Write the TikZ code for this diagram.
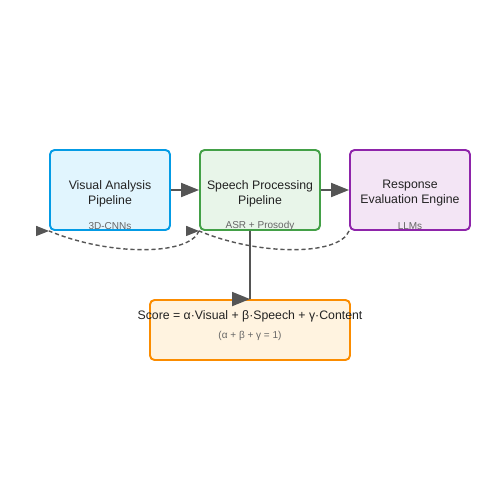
\documentclass[tikz,border=0pt]{standalone}
\usepackage{fontspec}
\setmainfont{Liberation Sans}
\usetikzlibrary{arrows.meta}
\definecolor{vfill}{HTML}{E1F5FE}\definecolor{vdraw}{HTML}{039BE5}
\definecolor{sfill}{HTML}{E8F5E9}\definecolor{sdraw}{HTML}{43A047}
\definecolor{rfill}{HTML}{F3E5F5}\definecolor{rdraw}{HTML}{8E24AA}
\definecolor{cfill}{HTML}{FFF3E0}\definecolor{cdraw}{HTML}{FB8C00}
\definecolor{lnc}{HTML}{555555}
\definecolor{subc}{HTML}{666666}
\definecolor{txtc}{HTML}{222222}
\begin{document}
\begin{tikzpicture}[x=0.02cm,y=-0.02cm,
  box/.style={draw, line width=1.1pt, rounded corners=0.09cm, minimum width=2.4cm, minimum height=1.6cm, inner sep=0pt},
  maintxt/.style={align=center, text=txtc, font=\fontsize{7}{8.5}\selectfont, inner sep=0pt},
  subtxt/.style={text=subc, font=\fontsize{5.7}{6.5}\selectfont, inner sep=0pt},
  arr/.style={draw=lnc, line width=1.1pt, -{Triangle[length=0.36cm,width=0.28cm]}},
  plain/.style={draw=lnc, line width=1.1pt},
  dline/.style={draw=lnc, line width=0.8pt, dash pattern=on 2.4pt off 1.6pt},
  darr/.style={draw=lnc, line width=0.8pt, -{Triangle[length=0.26cm,width=0.2cm]}}]
\useasboundingbox (0,0) rectangle (500,500);
\node[box, fill=vfill, draw=vdraw] (v) at (110,190) {};
\node[box, fill=sfill, draw=sdraw] (s) at (260,190) {};
\node[box, fill=rfill, draw=rdraw] (r) at (410,190) {};
\node[box, fill=cfill, draw=cdraw, minimum width=4cm, minimum height=1.2cm] (c) at (250,330) {};
\node[maintxt] (vt) at (110,193.5) {Visual Analysis\\Pipeline};
\node[maintxt] (st) at (260,193.5) {Speech Processing\\Pipeline};
\node[maintxt] (rt) at (410,193.5) {Response\\Evaluation Engine};
\node[subtxt] (vs) at (110,226) {3D-CNNs};
\node[subtxt] (ss) at (260,226) {ASR + Prosody};
\node[subtxt] (rs) at (410,226) {LLMs};
\node[maintxt] (ct) at (250,316) {Score = α·Visual + β·Speech + γ·Content};
\node[subtxt] (cs) at (250,336) {(α + β + γ = 1)};
\draw[arr] (v.east) -- (s.west);
\draw[arr] (s.east) -- (r.west);
\draw[plain] ([xshift=-0.2cm]s.south) -- (c.north);
\draw[arr] ([xshift=-0.36cm]c.north) -- (c.north);
\draw[dline] (s.south west) .. controls +(-10,25) and +(60,25) .. (v.south west);
\draw[darr] ([xshift=-0.26cm]v.south west) -- (v.south west);
\draw[dline] (r.south west) .. controls +(-10,25) and +(60,25) .. (s.south west);
\draw[darr] ([xshift=-0.26cm]s.south west) -- (s.south west);
\end{tikzpicture}
\end{document}
